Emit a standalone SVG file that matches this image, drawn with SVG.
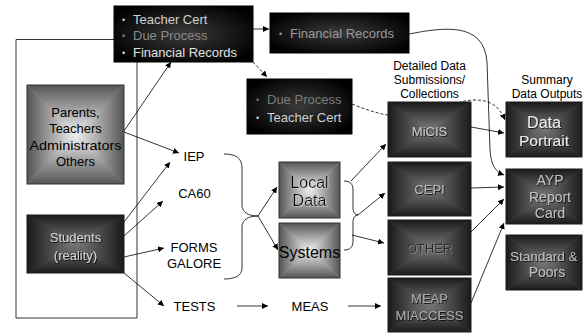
<svg xmlns="http://www.w3.org/2000/svg" xmlns:xlink="http://www.w3.org/1999/xlink" width="583" height="333" viewBox="0 0 583 333">
<style>
text{font-family:"Liberation Sans",Arial,sans-serif;}
.c{stroke:#000;stroke-width:0.8;fill:none;}
.d{stroke-dasharray:3 2;}
.t13{font-size:13px;}
.t12{font-size:12px;}
.mid{text-anchor:middle;}
.bd{fill:none;stroke:#1a1a1a;stroke-width:1;}
.bl{fill:none;stroke:#333;stroke-width:1;}
.sd{filter:url(#shD);}
.sl{filter:url(#shL);}
.sg{filter:url(#shG);}
</style>
<defs>
<filter id="shD" x="-10%" y="-20%" width="130%" height="150%"><feDropShadow dx="0.8" dy="0.8" stdDeviation="0.3" flood-color="#000" flood-opacity="0.9"/></filter>
<filter id="shL" x="-10%" y="-20%" width="130%" height="150%"><feDropShadow dx="0.7" dy="0.7" stdDeviation="0.3" flood-color="#ddd" flood-opacity="0.9"/></filter>
<filter id="shG" x="-10%" y="-20%" width="130%" height="150%"><feDropShadow dx="0.7" dy="0.7" stdDeviation="0.3" flood-color="#9a9a9a" flood-opacity="0.9"/></filter>
<marker id="ah" markerUnits="userSpaceOnUse" markerWidth="7" markerHeight="6" refX="6" refY="3" orient="auto">
<path d="M0,0 L6,3 L0,6 z" fill="#000"/>
</marker>
<linearGradient id="lT" x1="0" y1="0" x2="0" y2="1"><stop offset="0" stop-color="#555"/><stop offset="1" stop-color="#f2f2f2"/></linearGradient>
<linearGradient id="lB" x1="0" y1="1" x2="0" y2="0"><stop offset="0" stop-color="#555"/><stop offset="1" stop-color="#f2f2f2"/></linearGradient>
<linearGradient id="lL" x1="0" y1="0" x2="1" y2="0"><stop offset="0" stop-color="#555"/><stop offset="1" stop-color="#f2f2f2"/></linearGradient>
<linearGradient id="lR" x1="1" y1="0" x2="0" y2="0"><stop offset="0" stop-color="#555"/><stop offset="1" stop-color="#f2f2f2"/></linearGradient>
<linearGradient id="dT" x1="0" y1="0" x2="0" y2="1"><stop offset="0" stop-color="#1a1a1a"/><stop offset="1" stop-color="#7a7a7a"/></linearGradient>
<linearGradient id="dB" x1="0" y1="1" x2="0" y2="0"><stop offset="0" stop-color="#1a1a1a"/><stop offset="1" stop-color="#7a7a7a"/></linearGradient>
<linearGradient id="dL" x1="0" y1="0" x2="1" y2="0"><stop offset="0" stop-color="#1a1a1a"/><stop offset="1" stop-color="#7a7a7a"/></linearGradient>
<linearGradient id="dR" x1="1" y1="0" x2="0" y2="0"><stop offset="0" stop-color="#1a1a1a"/><stop offset="1" stop-color="#7a7a7a"/></linearGradient>
<radialGradient id="blk" cx="0.5" cy="0.5" r="0.6"><stop offset="0" stop-color="#3a3a3a"/><stop offset="1" stop-color="#000"/></radialGradient>
<symbol id="pyrL" viewBox="0 0 100 100" preserveAspectRatio="none">
<rect width="100" height="100" fill="#999"/>
<polygon points="0,0 100,0 50,50" fill="url(#lT)"/>
<polygon points="0,100 100,100 50,50" fill="url(#lB)"/>
<polygon points="0,0 0,100 50,50" fill="url(#lL)"/>
<polygon points="100,0 100,100 50,50" fill="url(#lR)"/>
</symbol>
<symbol id="pyrD" viewBox="0 0 100 100" preserveAspectRatio="none">
<rect width="100" height="100" fill="#444"/>
<polygon points="0,0 100,0 50,50" fill="url(#dT)"/>
<polygon points="0,100 100,100 50,50" fill="url(#dB)"/>
<polygon points="0,0 0,100 50,50" fill="url(#dL)"/>
<polygon points="100,0 100,100 50,50" fill="url(#dR)"/>
</symbol>
</defs>
<rect width="583" height="333" fill="#fff"/>

<g id="connectors">
<path class="c" d="M114,39.5 H16 V318 H137 V62"/>
<path class="c" d="M124,131 L171,62" marker-end="url(#ah)"/>
<path class="c" d="M124,132 L179,153" marker-end="url(#ah)"/>
<path class="c" d="M124,222 L170,162" marker-end="url(#ah)"/>
<path class="c" d="M124,236 L163,201" marker-end="url(#ah)"/>
<path class="c" d="M124,257 L164,248" marker-end="url(#ah)"/>
<path class="c" d="M124,273 L164,306" marker-end="url(#ah)"/>
<path class="c" d="M253,29 L269,29" marker-end="url(#ah)"/>
<path class="c d" d="M253,62 L267,77" marker-end="url(#ah)"/>
<path class="c" d="M237,306 L268,306" marker-end="url(#ah)"/>
<path class="c" d="M348,306 L381,306" marker-end="url(#ah)"/>
<path class="c" d="M224,154 C236,154 242,158 242,168 L242,205 C242,212 248,216 258,216 C248,216 242,220 242,227 L242,268 C242,275 236,279 224,279"/>
<path class="c" d="M258,216 L277,187" marker-end="url(#ah)"/>
<path class="c" d="M258,216 L278,250" marker-end="url(#ah)"/>
<path class="c" d="M344,181 C350,181 353,184 353,190 L353,208 C353,212 355,215 358,215 C355,215 353,218 353,222 L353,241 C353,247 350,250 344,250"/>
<path class="c" d="M351,181 L386,144" marker-end="url(#ah)"/>
<path class="c" d="M358,215 L385,193" marker-end="url(#ah)"/>
<path class="c" d="M352,235 L384,243" marker-end="url(#ah)"/>
<path class="c" d="M471,127 L504,133" marker-end="url(#ah)"/>
<path class="c" d="M471,188 L504,187" marker-end="url(#ah)"/>
<path class="c" d="M471,232 L504,199" marker-end="url(#ah)"/>
<path class="c" d="M471,303 L504,223" marker-end="url(#ah)"/>
<path class="c" d="M409,34 C445,27 484,22 487,62 L490,150 C491,166 496,172 504,175" marker-end="url(#ah)"/>
<path class="c d" d="M352,104 C372,112 390,118 412,116 C440,113 455,100 475,100 C492,100 500,108 505,120" marker-end="url(#ah)"/>
</g>

<g id="box-teacher-list">
<rect x="114" y="6" width="139" height="56" fill="url(#blk)" stroke="#000"/>
<text x="122" y="23" fill="#ccc" font-size="9">•</text>
<text class="t13" x="133" y="23.5" fill="#d0d0d0">Teacher Cert</text>
<text x="122" y="39" fill="#888" font-size="9">•</text>
<text class="t13" x="133" y="39.5" fill="#8a8a8a">Due Process</text>
<text x="122" y="56" fill="#ddd" font-size="9">•</text>
<text class="t13" x="133" y="56.5" fill="#e0e0e0">Financial Records</text>
</g>

<g id="box-financial">
<rect x="270" y="13" width="139" height="40" fill="url(#blk)" stroke="#000"/>
<text x="279" y="37" fill="#999" font-size="9">•</text>
<text class="t13" x="290" y="37.5" fill="#9a9a9a">Financial Records</text>
</g>

<g id="box-dueprocess">
<rect x="247" y="79" width="105" height="55" fill="url(#blk)" stroke="#000"/>
<text x="256" y="103" fill="#777" font-size="9">•</text>
<text class="t13" x="267" y="103.5" fill="#7a7a7a">Due Process</text>
<text x="256" y="121" fill="#ccc" font-size="9">•</text>
<text class="t13" x="267" y="121.5" fill="#d0d0d0">Teacher Cert</text>
</g>

<g id="parents">
<use xlink:href="#pyrL" x="27" y="85" width="97" height="99"/>
<rect class="bl" x="27" y="85" width="97" height="99"/>
<g class="t13 mid" fill="#000">
<text x="75.5" y="117">Parents,</text>
<text x="75.5" y="133">Teachers</text>
<text x="75.5" y="150" textLength="92" lengthAdjust="spacingAndGlyphs">Administrators</text>
<text x="75.5" y="166">Others</text>
</g>
</g>

<g id="students">
<use xlink:href="#pyrD" x="27" y="215" width="97" height="58"/>
<rect class="bd" x="27" y="215" width="97" height="58"/>
<g class="t13 mid sd" fill="#d0d0d0">
<text x="75.5" y="241.5">Students</text>
<text x="75.5" y="259.5">(reality)</text>
</g>
</g>

<g id="iep"><text class="t13 mid" x="194" y="160.5">IEP</text></g>
<g id="ca60"><text class="t13 mid" x="194.5" y="197.5">CA60</text></g>
<g id="forms"><text class="t13 mid" x="194" y="251.5">FORMS</text><text class="t13 mid" x="194" y="267.5">GALORE</text></g>
<g id="tests"><text class="t13 mid" x="194.5" y="310.5">TESTS</text></g>
<g id="meas"><text class="t13 mid" x="310" y="310.5">MEAS</text></g>

<g id="local-data">
<use xlink:href="#pyrL" x="279" y="162" width="61" height="56"/>
<rect class="bl" x="279" y="162" width="61" height="56"/>
<g class="sl">
<text class="mid" font-size="16" x="309.5" y="187.5">Local</text>
<text class="mid" font-size="16" x="309.5" y="205.5">Data</text>
</g>
</g>
<g id="systems">
<use xlink:href="#pyrL" x="279" y="223" width="61" height="55"/>
<rect class="bl" x="279" y="223" width="61" height="55"/>
<text class="mid" font-size="16" x="309.5" y="257.5">Systems</text>
</g>

<g id="hdr-detailed" class="t12 mid">
<text x="429.5" y="70.3">Detailed Data</text>
<text x="429.5" y="84.3">Submissions/</text>
<text x="429.5" y="98.3">Collections</text>
</g>
<g id="hdr-summary" class="t12 mid">
<text x="547" y="84.3">Summary</text>
<text x="547" y="98.3">Data Outputs</text>
</g>

<g id="micis">
<use xlink:href="#pyrD" x="388" y="102" width="83" height="55"/>
<rect class="bd" x="388" y="102" width="83" height="55"/>
<text class="t13 mid sd" x="429.5" y="135.5" fill="#c4c4c4">MiCIS</text>
</g>
<g id="cepi">
<use xlink:href="#pyrD" x="388" y="162" width="83" height="54"/>
<rect class="bd" x="388" y="162" width="83" height="54"/>
<text class="t13 mid sd" x="429.5" y="193.5" fill="#b8b8b8">CEPI</text>
</g>
<g id="other">
<use xlink:href="#pyrD" x="388" y="220" width="83" height="55"/>
<rect class="bd" x="388" y="220" width="83" height="55"/>
<text class="t13 mid sg" x="429.5" y="252.5" fill="#2a2a2a">OTHER</text>
</g>
<g id="meap">
<use xlink:href="#pyrD" x="388" y="278" width="83" height="54"/>
<rect class="bd" x="388" y="278" width="83" height="54"/>
<g class="t13 mid sd" fill="#a8a8a8">
<text x="429.5" y="302.5">MEAP</text>
<text x="429.5" y="320">MIACCESS</text>
</g>
</g>

<g id="data-portrait">
<use xlink:href="#pyrD" x="506" y="102" width="76" height="55"/>
<rect class="bd" x="506" y="102" width="76" height="55"/>
<g class="mid sd" fill="#e8e8e8">
<text font-size="16" x="544" y="127.5">Data</text>
<text font-size="15.5" x="544" y="145.5">Portrait</text>
</g>
</g>
<g id="ayp">
<use xlink:href="#pyrD" x="506" y="169" width="76" height="55"/>
<rect class="bd" x="506" y="169" width="76" height="55"/>
<g class="mid sd" font-size="14" fill="#bdbdbd">
<text x="550" y="185">AYP</text>
<text x="550" y="202">Report</text>
<text x="550" y="218">Card</text>
</g>
</g>
<g id="standard-poors">
<use xlink:href="#pyrD" x="506" y="235" width="76" height="55"/>
<rect class="bd" x="506" y="235" width="76" height="55"/>
<g class="sd" fill="#bdbdbd">
<text font-size="13.5" x="510" y="261">Standard &amp;</text>
<text class="mid" font-size="14" x="547" y="277">Poors</text>
</g>
</g>
</svg>
